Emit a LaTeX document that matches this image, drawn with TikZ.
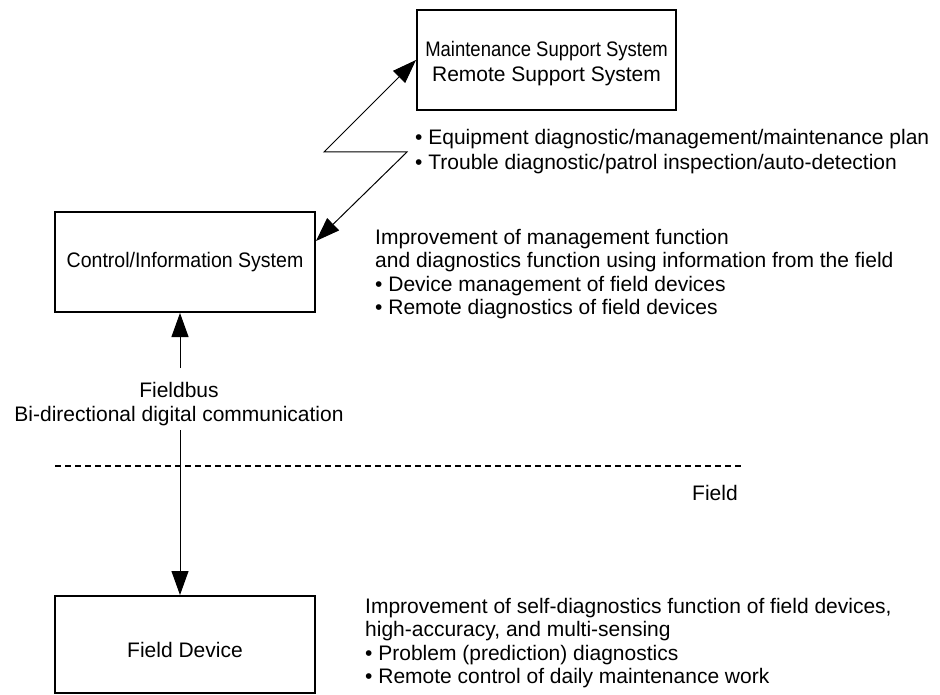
\documentclass[tikz,border=0pt]{standalone}
\usepackage{fontspec}
\usepackage{graphicx}
\setmainfont{Liberation Sans}
\usetikzlibrary{arrows.meta,calc}

\tikzset{
  sysbox/.style={draw, line width=2pt, inner sep=0pt, align=center},
  txt/.style={inner sep=0pt, align=left, anchor=north west},
  arr/.style={line width=1pt, -{Triangle[length=24pt,width=17pt]}},
  twoarr/.style={line width=1pt, {Triangle[length=24pt,width=17pt]}-{Triangle[length=24pt,width=17pt]}},
  fieldline/.style={line width=2pt, dash pattern=on 6pt off 4pt},
}

\begin{document}
\begin{tikzpicture}[x=1pt, y=-1pt, font=\fontsize{21}{23.5}\selectfont]
  \useasboundingbox (0,0) rectangle (940,695);

  % system boxes
  \node[sysbox, minimum width=259pt, minimum height=100pt,
        font=\fontsize{21}{25}\selectfont] (mss) at (546.5,60)
    {\raisebox{-4pt}[\height][\depth]{\begin{tabular}{@{}c@{}}
       \scalebox{0.88}[1]{Maintenance Support System}\\Remote Support System
     \end{tabular}}};
  \node[sysbox, minimum width=260pt, minimum height=100pt] (cis) at (185,262)
    {\scalebox{0.93}[1]{Control/Information System}};
  \node[sysbox, minimum width=260pt, minimum height=97pt] (fd) at (185,644.5)
    {\raisebox{-5.5pt}[\height][\depth]{Field Device}};

  % link between control system and maintenance support (zigzag)
  \coordinate (zr) at (407,152);
  \coordinate (zl) at (324,152);
  \draw[twoarr] ($(cis.north east)+(0,30)$) -- (zr) -- (zl) -- (mss.west);

  % fieldbus link
  \node[inner sep=0pt, align=center, font=\fontsize{21}{24}\selectfont] (bus) at (179,404)
    {Fieldbus\\Bi-directional digital communication};
  \coordinate (busup) at (180,368);
  \coordinate (busdn) at (180,430);
  \draw[arr] (busup) -- (busup |- cis.south);
  \draw[arr] (busdn) -- (busdn |- fd.north);

  % field boundary
  \coordinate (fl) at (55,466);
  \coordinate (fr) at (743,466);
  \draw[fieldline] (fl) -- (fr);
  \node[inner sep=0pt, anchor=base] (field) at (715,500) {Field};

  % descriptions
  \node[txt, font=\fontsize{21}{25.5}\selectfont] (maintxt) at (415,129)
    {• Equipment diagnostic/management/maintenance plan\\
     • Trouble diagnostic/patrol inspection/auto-detection};
  \node[txt] (ctrltxt) at (375,229)
    {Improvement of management function\\
     and diagnostics function using information from the field\\
     • Device management of field devices\\
     • Remote diagnostics of field devices};
  \node[txt] (devtxt) at (365,598)
    {Improvement of self-diagnostics function of field devices,\\
     high-accuracy, and multi-sensing\\
     • Problem (prediction) diagnostics\\
     • Remote control of daily maintenance work};
\end{tikzpicture}
\end{document}
